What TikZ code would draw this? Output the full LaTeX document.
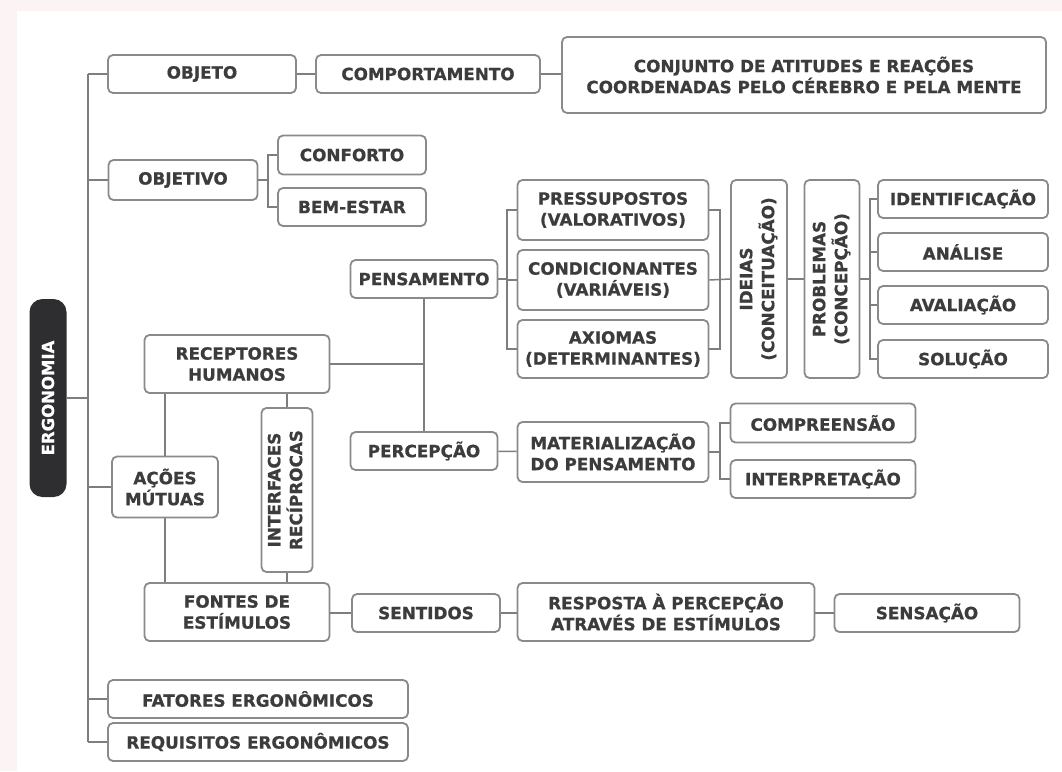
\documentclass[tikz,border=0pt]{standalone}
\usepackage{fontspec}
\usepackage{graphicx}
\setmainfont{DejaVu Sans}
\newfontfamily\heavy{DejaVu Sans Bold}[FakeBold=0.8]
\begin{document}
\begin{tikzpicture}[x=1pt,y=-1pt,
  box/.style={draw=boxline, line width=1.8pt, rounded corners=5pt, fill=white,
    inner sep=0pt, align=center, text=txt,
    font=\fontsize{16.8}{21}\heavy},
  root/.style={fill=rootfill, rounded corners=13pt, inner sep=0pt, text=white,
    font=\fontsize{16.5}{20}\heavy},
  link/.style={draw=linkc, line width=1.5pt}]
\definecolor{boxline}{HTML}{8A8A8A}
\definecolor{linkc}{HTML}{7E7E7E}
\definecolor{txt}{HTML}{3C3C3C}
\definecolor{rootfill}{HTML}{2E2E30}
\definecolor{margin}{HTML}{FCF3F4}
% canvas
\fill[margin] (0,0) rectangle (1062,771);
\fill[white] (17,11) rectangle (1062,771);
\useasboundingbox (0,0) rectangle (1062,771);

% root
\node[root, minimum width=37, minimum height=198] (ergo) at (48,398) {\rotatebox{90}{ERGONOMIA}};

% first level
\node[box, minimum width=188, minimum height=38] (objeto) at (202,74) {OBJETO};
\node[box, minimum width=149, minimum height=40] (objetivo) at (183,180) {OBJETIVO};
\node[box, minimum width=185, minimum height=58] (receptores) at (237,364) {RECEPTORES\\HUMANOS};
\node[box, minimum width=106, minimum height=61] (acoes) at (165,487) {AÇÕES\\MÚTUAS};
\node[box, minimum width=185, minimum height=58] (fontes) at (237,612) {FONTES DE\\ESTÍMULOS};
\node[box, minimum width=300, minimum height=38] (fatores) at (258,699) {FATORES ERGONÔMICOS};
\node[box, minimum width=300, minimum height=38] (requisitos) at (258,742) {REQUISITOS ERGONÔMICOS};

% objeto branch
\node[box, minimum width=224, minimum height=38] (comport) at (428,74) {COMPORTAMENTO};
\node[box, minimum width=484, minimum height=76] (conjunto) at (804,75) {CONJUNTO DE ATITUDES E REAÇÕES\\COORDENADAS PELO CÉREBRO E PELA MENTE};

% objetivo branch
\node[box, minimum width=148, minimum height=39] (conforto) at (352,155) {CONFORTO};
\node[box, minimum width=148, minimum height=38] (bemestar) at (352,207) {BEM-ESTAR};

% pensamento branch
\node[box, minimum width=147, minimum height=38] (pensamento) at (424,279) {PENSAMENTO};
\node[box, minimum width=191, minimum height=60] (pressup) at (613,210) {PRESSUPOSTOS\\(VALORATIVOS)};
\node[box, minimum width=191, minimum height=60] (condic) at (613,280) {CONDICIONANTES\\(VARIÁVEIS)};
\node[box, minimum width=191, minimum height=58] (axiomas) at (613,349) {AXIOMAS\\(DETERMINANTES)};
\node[box, minimum width=56, minimum height=198] (ideias) at (759,279)
  {\rotatebox{90}{\begin{tabular}{@{}c@{}}IDEIAS\\(CONCEITUAÇÃO)\end{tabular}}};
\node[box, minimum width=55, minimum height=198] (problemas) at (832,279)
  {\rotatebox{90}{\begin{tabular}{@{}c@{}}PROBLEMAS\\(CONCEPÇÃO)\end{tabular}}};
\node[box, minimum width=170, minimum height=38] (ident) at (963,199) {IDENTIFICAÇÃO};
\node[box, minimum width=170, minimum height=38] (analise) at (963,252) {ANÁLISE};
\node[box, minimum width=170, minimum height=38] (avalia) at (963,305) {AVALIAÇÃO};
\node[box, minimum width=170, minimum height=38] (solucao) at (963,359) {SOLUÇÃO};

% percepcao branch
\node[box, minimum width=147, minimum height=38] (percepcao) at (424,451) {PERCEPÇÃO};
\node[box, minimum width=191, minimum height=60] (materia) at (613,452) {MATERIALIZAÇÃO\\DO PENSAMENTO};
\node[box, minimum width=185, minimum height=39] (compre) at (823,423) {COMPREENSÃO};
\node[box, minimum width=185, minimum height=38] (interp) at (823,479) {INTERPRETAÇÃO};

% interfaces
\node[box, minimum width=51, minimum height=164] (interf) at (287,490)
  {\rotatebox{90}{\begin{tabular}{@{}c@{}}INTERFACES\\RECÍPROCAS\end{tabular}}};

% stimuli chain
\node[box, minimum width=148, minimum height=38] (sentidos) at (426,613) {SENTIDOS};
\node[box, minimum width=297, minimum height=58] (resposta) at (666,612) {RESPOSTA À PERCEPÇÃO\\ATRAVÉS DE ESTÍMULOS};
\node[box, minimum width=185, minimum height=38] (sensacao) at (927,613) {SENSAÇÃO};

% bracket columns
\coordinate (trunk) at (88,0);
\coordinate (cobj) at (268,0);
\coordinate (cpen) at (507,0);
\coordinate (cide) at (720,0);
\coordinate (cpro) at (870,0);
\coordinate (cmat) at (720,0);

% connectors
\draw[link] (objeto.west -| trunk) -- (requisitos.west -| trunk);
\foreach \n in {objeto, objetivo, acoes, fatores, requisitos}
  \draw[link] (\n.west) -- (\n.west -| trunk);
\draw[link] (ergo.east) -- (ergo.east -| trunk);

\draw[link] (objeto) -- (comport);
\draw[link] (comport) -- (conjunto.west |- comport);

\draw[link] (objetivo.east) -- (objetivo.east -| cobj);
\draw[link] (conforto.west) -- (cobj |- conforto.west) -- (cobj |- bemestar.west) -- (bemestar.west);

\draw[link] (pensamento.east) -- (pensamento.east -| cpen);
\draw[link] (pressup.west) -- (cpen |- pressup.west) -- (cpen |- axiomas.west) -- (axiomas.west);
\draw[link] (condic.west) -- (condic.west -| cpen);
\draw[link] (pressup.east) -- (cide |- pressup.east) -- (cide |- axiomas.east) -- (axiomas.east);
\draw[link] (condic.east) -- (ideias.west);
\draw[link] (ideias.east) -- (problemas.west);
\draw[link] (ident.west) -- (cpro |- ident.west) -- (cpro |- solucao.west) -- (solucao.west);
\draw[link] (analise.west) -- (analise.west -| cpro);
\draw[link] (avalia.west) -- (avalia.west -| cpro);
\draw[link] (problemas.east) -- (problemas.east -| cpro);

\draw[link] (pensamento.south) -- (percepcao.north);
\draw[link] (receptores.east) -- (receptores.east -| pensamento.south);
\draw[link] (percepcao) -- (materia);
\draw[link] (compre.west) -- (cmat |- compre.west) -- (cmat |- interp.west) -- (interp.west);
\draw[link] (materia.east) -- (materia.east -| cmat);

\draw[link] (acoes.north) -- (acoes.north |- receptores.south);
\draw[link] (acoes.south) -- (acoes.south |- fontes.north);
\draw[link] (interf.north) -- (interf.north |- receptores.south);
\draw[link] (interf.south) -- (interf.south |- fontes.north);

\draw[link] (sentidos.west -| fontes.east) -- (sentidos.west);
\draw[link] (sentidos.east) -- (sentidos.east -| resposta.west);
\draw[link] (resposta.east |- sensacao.west) -- (sensacao.west);
\end{tikzpicture}
\end{document}
